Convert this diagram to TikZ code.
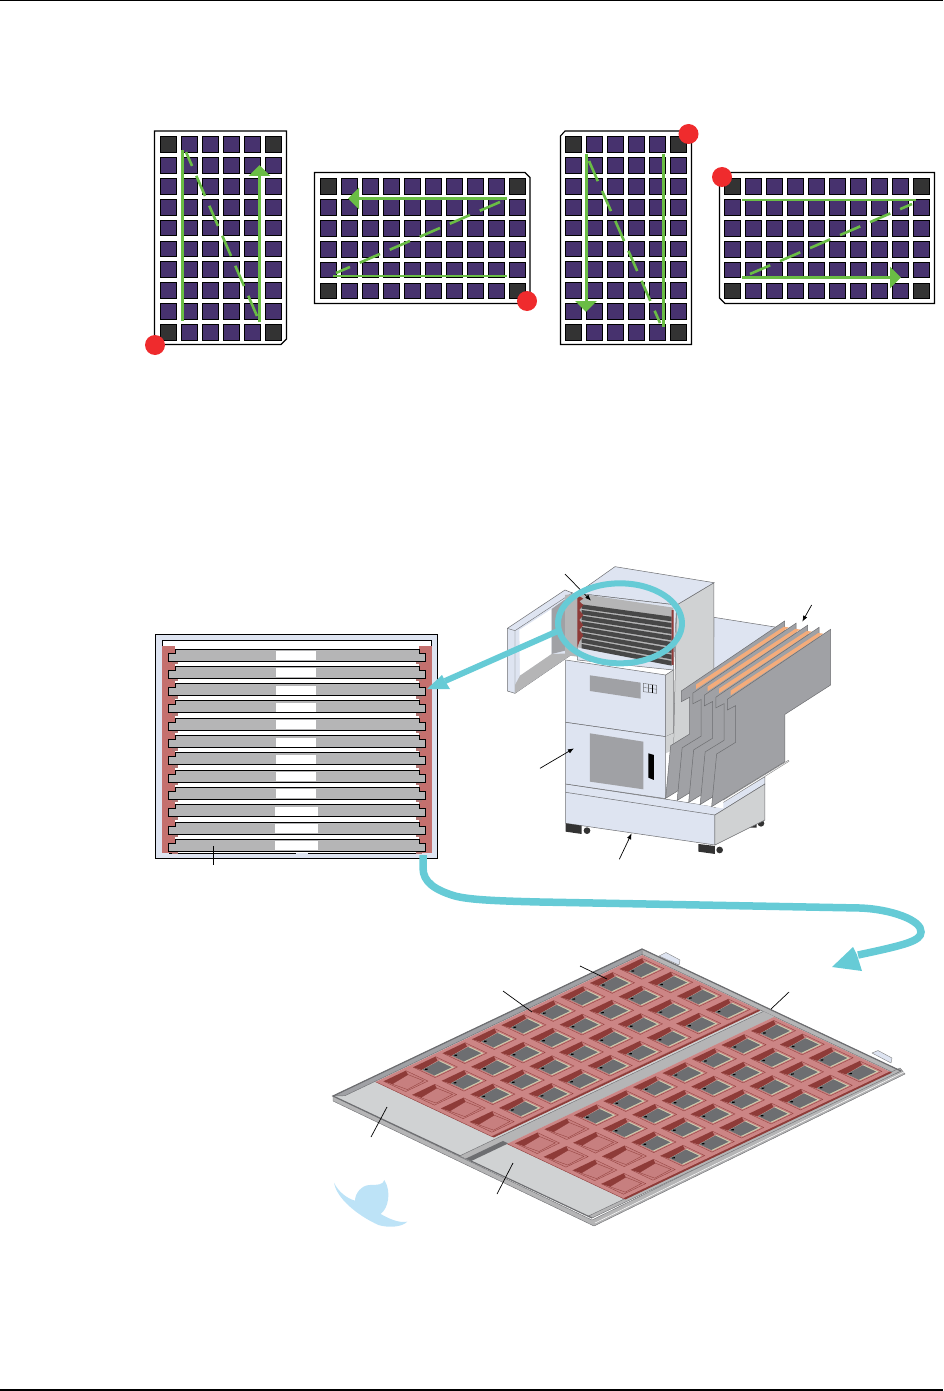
\documentclass[tikz,border=0pt]{standalone}
\usetikzlibrary{arrows.meta}
\definecolor{wellblue}{HTML}{47326E}
\definecolor{welldark}{HTML}{333333}
\definecolor{pathgreen}{HTML}{6ABD45}
\definecolor{pinred}{HTML}{EF2B2D}
\definecolor{tubecyan}{HTML}{66CBD6}
\definecolor{bodyblue}{HTML}{DEE4F1}
\definecolor{sidegray}{HTML}{D0D2D3}
\definecolor{midgray}{HTML}{A0A1A5}
\definecolor{slotgray}{HTML}{B5B5B6}
\definecolor{darkgray}{HTML}{6D6E71}
\definecolor{traypink}{HTML}{CC8585}
\definecolor{traywall}{HTML}{8E3B38}
\definecolor{sidered}{HTML}{C4706E}
\definecolor{stripe}{HTML}{F4AC7B}
\definecolor{swoosh}{HTML}{BDE3F7}
\definecolor{leadbeige}{HTML}{CFCDAE}
\begin{document}
\begin{tikzpicture}[x=1pt, y=-1pt, >=latex,
    plate/.style={draw=black, fill=white, line width=1.1pt},
    well/.style={draw=black, fill=wellblue, line width=0.8pt},
    corner/.style={draw=black, fill=welldark, line width=0.8pt},
    thick path/.style={draw=pathgreen, line width=3pt},
    thin path/.style={draw=pathgreen, line width=2.4pt},
    dash path/.style={draw=pathgreen, line width=2.6pt, dash pattern=on 22pt off 10.7pt},
    flow/.style={-{Triangle[length=11pt,width=21pt]}},
    pin/.style={fill=pinred},
    body/.style={draw=darkgray, fill=bodyblue, line width=0.5pt},
    side/.style={draw=darkgray, fill=sidegray, line width=0.5pt},
    combplate/.style={draw=darkgray, fill=midgray, line width=0.5pt},
    tube/.style={draw=tubecyan, line width=6pt},
    tubehead/.style={fill=tubecyan},
    leader/.style={draw=black, line width=0.7pt},
    leadarrow/.style={leader, -{Latex[length=6pt,width=4.5pt]}},
    slotbar/.style={draw=black, fill=slotgray, line width=0.9pt},
    framegray/.style={fill=slotgray, draw=darkgray, line width=0.4pt},
    tab/.style={draw=gray, fill=bodyblue, line width=0.4pt}]
  \useasboundingbox (0,0) rectangle (943,1391);
  % page rules
  \fill[black] (0,0) rectangle (943,1.5);
  \fill[black] (0,1389) rectangle (943,1391);
  % plate outlines
  \draw[plate] (154.5,131) -- (286.5,131) -- (286.5,339) -- (281,344.5) -- (154.5,344.5) -- cycle;
  \draw[plate] (314.5,172.5) -- (525,172.5) -- (530,177.5) -- (530,303.5) -- (314.5,303.5) -- cycle;
  \draw[plate] (565,131) -- (691.5,131) -- (691.5,344.5) -- (560.5,344.5) -- (560.5,136) -- cycle;
  \draw[plate] (719.5,172.5) -- (934.5,172.5) -- (934.5,303.5) -- (725,303.5) -- (719.5,298) -- cycle;
  % wells
  \foreach \px/\py/\lx/\ly in {160/136/5/9, 320/178/9/5, 565/136/5/9, 724/178/9/5} {
    \foreach \i in {0,...,\lx}
      \foreach \j in {0,...,\ly}
        \draw[well] ({\px+.4+\i*21},{\py+.4+\j*20.9}) rectangle ++(15.8,15.8);
    \foreach \i in {0,\lx}
      \foreach \j in {0,\ly}
        \draw[corner] ({\px+.4+\i*21},{\py+.4+\j*20.9}) rectangle ++(15.8,15.8);
  }
  % read paths
  \draw[thin path] (182.5,150) -- (182.5,321);
  \draw[dash path] (257,316) -- (186,152);
  \draw[thick path, flow] (259.5,322) -- (259.5,165);
  \draw[thick path, flow] (507,198.5) -- (348,198.5);
  \draw[dash path] (500,202) -- (336,273);
  \draw[thin path] (333,276) -- (507,276);
  \draw[thick path, flow] (586,154) -- (586,312);
  \draw[dash path] (589,161) -- (660,323);
  \draw[thin path] (663.5,154) -- (663.5,327);
  \draw[thin path, line width=2.8pt] (742,200) -- (916,200);
  \draw[dash path] (750,274) -- (912,204);
  \draw[thick path, flow] (742,277.5) -- (901,277.5);
  % A1 markers
  \foreach \cx/\cy in {155/345, 527/301, 688.5/134, 722/177}
    \fill[pin] (\cx,\cy) circle (10);

  % magazine section
  \draw[draw=black, fill=bodyblue, line width=0.9pt] (155.5,634) rectangle (437,858);
  \fill[white] (162,640) rectangle (431.5,853);
  \draw[black, line width=0.9pt] (162,646) -- (162,640) -- (431.5,640) -- (431.5,646);
  \fill[sidered] (162,646) rectangle (175,853);
  \fill[sidered] (418.5,646) rectangle (431.5,853);
  \draw[black, line width=0.9pt] (169,853) -- (296,853);
  \draw[black, line width=0.9pt] (308,853) -- (420,853);
  \foreach \n in {0,...,11} {
    \fill[traywall!70] (172,{649+\n*17.3+12.5}) rectangle ++(6,2.5);
    \fill[traywall!70] (416,{649+\n*17.3+12.5}) rectangle ++(6,2.5);
    \draw[slotbar] (175,{649+\n*17.3}) -- (419,{649+\n*17.3}) -- ++(0,4) -- ++(6.5,0) -- ++(0,8)
      -- (168.5,{649+\n*17.3+12}) -- ++(0,-8) -- ++(6.5,0) -- cycle;
  }
  \foreach \n in {0,...,8}
    \fill[white] (276,{651+\n*17.3}) rectangle (316,{660+\n*17.3});
  \foreach \n in {9,10,11}
    \fill[white] (275,{651+\n*17.3}) rectangle (318,{660+\n*17.3});
  \draw[leader] (213,846) -- (213,865);

  % oven
  \begin{scope}[shift={(490,560)}, x=0.3333pt, y=-0.3333pt]
    \draw[body] (672,172) -- (880,205) -- (670,340) -- cycle;
    \draw[side] (560,135) -- (672,68) -- (672,510) -- (550,590) -- cycle;
    \draw[body] (262,100) -- (375,20) -- (672,68) -- (560,135) -- cycle;
    % wheels
    \fill[welldark] (770,797) -- (800,783) -- (800,803) -- (770,803) -- cycle;
    \fill[welldark] (813,790) circle (10);
    % base
    \draw[body] (227,672) -- (675,740) -- (825,650) -- (825,672) -- (675,765) -- (675,855) -- (227,790) -- cycle;
    \draw[side] (675,765) -- (825,672) -- (825,780) -- (675,855) -- cycle;
    \draw[draw=darkgray, line width=0.5pt] (227,697) -- (675,765);
    \draw[draw=gray, fill=white, line width=0.4pt] (668,740) -- (895,601) -- (897,604) -- (675,743) -- cycle;
    \fill[welldark] (227,790) -- (275,797) -- (275,822) -- (227,815) -- cycle;
    \fill[welldark] (291,812) circle (10);
    \fill[welldark] (625,852) -- (675,858) -- (675,882) -- (625,875) -- cycle;
    \fill[welldark] (689,870) circle (10);
    % door
    \draw[body] (52,205) -- (225,90) -- (250,100) -- (250,280) -- (75,400) -- (52,393) -- cycle;
    \draw[draw=darkgray, line width=0.4pt] (52,205) -- (75,212) -- (75,400);
    \draw[draw=darkgray, line width=0.4pt] (75,212) -- (248,98);
    \fill[white] (88,210) -- (185,147) -- (185,282) -- (90,347) -- cycle;
    \fill[midgray] (185,147) -- (225,118) -- (225,272) -- (185,282) -- cycle;
    \fill[slotgray] (75,400) -- (75,375) -- (90,347) -- (185,282) -- (250,280) -- cycle;
    % cabinet front
    \draw[body] (262,100) -- (560,135) -- (550,330) -- (262,300) -- cycle;
    \fill[slotgray] (225,105) -- (262,100) -- (262,290) -- (225,285) -- cycle;
    \fill[slotgray] (262,100) -- (550,143) -- (550,315) -- (262,262) -- cycle;
    \foreach \s in {0,...,7}
      \fill[welldark!90] (275,{133+\s*17}) -- (545,{170+\s*19}) -- ++(0,14) -- (275,{146+\s*17}) -- cycle;
    \fill[traywall] (262,105) -- (280,116) -- (268,124) -- (280,135) -- (268,150) -- (280,165) -- (268,180)
      -- (280,195) -- (268,210) -- (280,225) -- (268,245) -- (262,262) -- cycle;
    \fill[traywall] (545,150) -- (551,150) -- (551,315) -- (545,314) -- cycle;
    % front panels
    \draw[side] (527,345) -- (550,330) -- (550,520) -- (527,530) -- cycle;
    \draw[body] (227,300) -- (527,345) -- (527,530) -- (227,487) -- cycle;
    \fill[sidegray] (527,530) -- (550,520) -- (550,570) -- (527,580) -- cycle;
    \draw[body] (227,487) -- (527,530) -- (527,716) -- (227,672) -- cycle;
    \fill[midgray] (300,346) -- (452,368) -- (452,416) -- (300,393) -- cycle;
    \draw[draw=darkgray, line width=0.4pt] (460,370) -- (500,376) -- (500,400) -- (460,395) -- cycle;
    \draw[draw=darkgray, line width=0.4pt] (460,382) -- (500,388);
    \draw[draw=darkgray, line width=0.4pt] (475,372) -- (475,397);
    \draw[black, line width=0.6pt] (487,374) -- (487,399);
    \fill[midgray] (300,520) -- (460,545) -- (460,688) -- (300,665) -- cycle;
    \fill[black] (475,580) -- (492,585) -- (492,660) -- (475,653) -- cycle;
    % comb plates
    \foreach \k/\sx/\sy in {0/138/25, 1/103.5/18.6, 2/69/12.4, 3/34.5/6.2, 4/0/0} {
      \begin{scope}[xshift={-\sx*0.3333pt}, yshift={\sy*0.3333pt}]
        \fill[white] (665,740) -- (700,718) -- (700,745) -- cycle;
        \draw[combplate] (665,740) -- (680,582) -- (737,547) -- (737,437) -- (712,450) -- (712,418)
          -- (1022,208) -- (1022,375) -- (885,463) -- (885,605) -- cycle;
        \ifnum\k<4
          \begin{scope}[xshift={34.5*0.3333pt}, yshift={-6.2*0.3333pt}]
            \fill[stripe] (722,392) -- (985,219) -- (1000,221) -- (722,406) -- cycle;
          \end{scope}
        \fi
      \end{scope}
    }
    % leader arrows
    \draw[leadarrow] (225,42) -- (303,122);
    \draw[leadarrow] (965,135) -- (937,185);
    \draw[leadarrow] (150,625) -- (252,565);
    \draw[leadarrow] (388,898) -- (425,820);
    % magnifier
    \draw[tube] (390,190) ellipse [x radius=186, y radius=120];
  \end{scope}
  \draw[tube] (558,631) -- (445,681);
  \fill[tubehead] (427,689) -- (442,675) -- (445,681) -- (450,689) -- cycle;
  \draw[tube, line width=7.5pt] (423,855) -- (423,868) .. controls (423,882) and (435,890) .. (455,896)
    .. controls (470,900) and (500,901) .. (540,902) -- (860,908)
    .. controls (890,909) and (922,920) .. (921,932)
    .. controls (921,941) and (905,945) .. (858,955);
  \fill[tubehead] (832,967) -- (853,947) -- (857,955) -- (862,971) -- cycle;

  % tray tabs
  \draw[tab] (659,956) -- (666,952.5) -- (680,960) -- (679,965) -- cycle;
  \draw[tab] (872,1053) -- (878,1050.5) -- (892,1058) -- (891,1063) -- cycle;
  % lower lip of the frame
  \draw[draw=darkgray, fill=slotgray, line width=0.4pt] (333,1096) -- (592,1220) -- (900,1068)
    -- (905,1074) -- (594,1226) -- (333,1101) -- cycle;
  \draw[white, line width=0.5pt] (595,1223) -- (904,1072);
  \begin{scope}[shift={(333,1096)}, x={(309pt,147pt)}, y={(259pt,-122pt)}]
    \fill[sidegray] (0,0) -- (1,0) -- (1,1) -- (0,1) -- cycle;
    % frame rails
    \draw[framegray, fill=midgray] (0,0) -- (1,0) -- (1,.022) -- (.02,.022) -- cycle;
    \draw[framegray] (1,0) -- (1,1) -- (.982,1) -- (.982,.022) -- cycle;
    \draw[framegray] (0,.985) -- (1,.985) -- (1,1) -- (0,1) -- cycle;
    \draw[draw=darkgray, line width=1.2pt] (0,1) -- (0,0) -- (1,0) -- (1,1);
    % divider
    \fill[slotgray] (0,.49) -- (.982,.49) -- (.982,.533) -- (0,.533) -- cycle;
    \fill[darkgray] (0,.513) -- (.12,.513) -- (.12,.533) -- (0,.533) -- cycle;
    \draw[draw=darkgray, line width=0.4pt] (0,.49) -- (.982,.49);
    % trays
    \foreach \tv/\skip in {.025/1, .533/2} {
      \fill[traywall] (.117,{\tv+.445}) -- (.98,{\tv+.445}) -- (.98,{\tv+.456}) -- (.117,{\tv+.456}) -- cycle;
      \fill[traypink] (.117,\tv) -- (.98,\tv) -- (.98,{\tv+.447}) -- (.117,{\tv+.447}) -- cycle;
      \draw[draw=traywall, line width=0.4pt] (.117,\tv) -- (.117,{\tv+.447});
      \foreach \iu in {0,...,8}
        \foreach \iv in {0,1,2,3} {
          \begin{scope}[shift={({.12+\iu*.0955+.012},{\tv+\iv*.111+.013})}]
            \fill[traypink!92!traywall] (0,0) -- (.072,0) -- (.072,.085) -- (0,.085) -- cycle;
            \fill[traywall] (0,0) -- (.072,0) -- (.062,.02) -- (.004,.028) -- cycle;
            \draw[draw=traywall, line width=0.3pt] (.072,0) -- (.072,.085) -- (0,.085) -- (0,0);
            \ifnum\iu<\skip
              \draw[draw=traywall, line width=0.3pt] (.004,.028) -- (.062,.02) -- (.066,.076) -- (.01,.08) -- cycle;
            \else
              \fill[leadbeige] (.006,.028) -- (.066,.024) -- (.066,.08) -- (.006,.08) -- cycle;
              \fill[darkgray] (.006,.028) -- (.062,.024) -- (.062,.075) -- (.006,.075) -- cycle;
              \fill[black] (.014,.034) circle [radius=.0045];
            \fi
          \end{scope}
        }
    }
    \draw[draw=traywall!80, line width=0.3pt] (.117,.472) -- (.98,.472);
  \end{scope}
  % tray leaders
  \draw[leader] (503,991) -- (532,1012);
  \draw[leader] (580,966) -- (607,979);
  \draw[leader] (789,992) -- (771,1009);
  \draw[leader] (387,1107) -- (371,1137);
  \draw[leader] (513,1163) -- (497,1194);
  % rotation mark
  \begin{scope}[shift={(320,940)}, x=0.3333pt, y=-0.3333pt]
    \fill[swoosh] (42,728) .. controls (50,775) and (110,825) .. (175,855)
      .. controls (205,864) and (245,862) .. (262,845)
      .. controls (235,850) and (205,835) .. (182,822)
      .. controls (205,805) and (215,755) .. (193,720)
      .. controls (190,735) and (170,735) .. (150,735)
      .. controls (125,735) and (105,760) .. (105,782)
      .. controls (80,775) and (55,755) .. (42,728) -- cycle;
  \end{scope}
\end{tikzpicture}
\end{document}
